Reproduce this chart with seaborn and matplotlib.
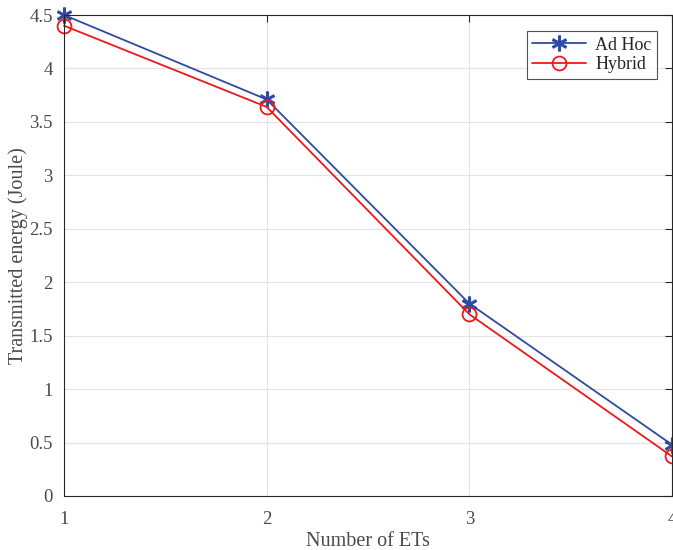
import matplotlib
matplotlib.use("Agg")
import matplotlib.pyplot as plt
import seaborn as sns
import pandas as pd

num_ets = [1, 2, 3, 4]
adhoc = [4.5, 3.71, 1.80, 0.48]
hybrid = [4.4, 3.64, 1.70, 0.37]
series_names = ["Ad Hoc", "Hybrid"]
x_ticks = [1, 2, 3, 4]
y_ticks = [0, 0.5, 1, 1.5, 2, 2.5, 3, 3.5, 4, 4.5]
y_tick_labels = ["0", "0.5", "1", "1.5", "2", "2.5", "3", "3.5", "4", "4.5"]

sns.set_style("white")
plt.rcParams["font.family"] = ["Liberation Serif", "DejaVu Serif"]

df = pd.DataFrame({
    "x": num_ets * 2,
    "y": adhoc + hybrid,
    "series": [series_names[0]] * 4 + [series_names[1]] * 4,
})

fig = plt.figure(figsize=(6.73, 5.5), dpi=100)
ax = fig.add_axes([0.0951, 0.0982, 0.9034, 0.8745])

txt = "#4a4a4a"
colors = {"Ad Hoc": "#2f4b9f", "Hybrid": "#f01818"}
for name in series_names:
    sub = df[df.series == name]
    sns.lineplot(data=sub, x="x", y="y", ax=ax, color=colors[name], lw=1.3,
                 marker="$\u2217$" if name == "Ad Hoc" else "o",
                 markersize=11 if name == "Ad Hoc" else 10,
                 markerfacecolor="none" if name == "Hybrid" else colors[name],
                 markeredgecolor=colors[name], markeredgewidth=1.3 if name == "Hybrid" else 0.8,
                 label=name, clip_on=False)

ax.set_xlim(1, 4)
ax.set_ylim(0, 4.5)
ax.set_xticks(x_ticks)
ax.set_xticklabels([str(v) for v in x_ticks])
ax.set_yticks(y_ticks)
ax.set_yticklabels(y_tick_labels)
ax.grid(True, color="#e3e3e3", lw=0.8)
ax.tick_params(direction="in", length=5, width=0.8, color="#262626", labelcolor=txt,
               labelsize=13.5, top=True, right=True, pad=8)
ax.tick_params(axis="x", pad=11)
for s in ax.spines.values():
    s.set_color("#262626")
    s.set_linewidth(0.8)
ax.set_xlabel("Number of ETs", fontsize=14.5, color=txt, labelpad=3)
ax.set_ylabel("Transmitted energy (Joule)", fontsize=14.5, color=txt, labelpad=1)

leg = ax.legend(loc="upper right", bbox_to_anchor=(0.9755, 0.966), fontsize=13,
                frameon=True, fancybox=False, edgecolor="#262626",
                handlelength=3.0, borderpad=0.3, labelspacing=0.15, handletextpad=0.5,
                borderaxespad=0)
for t in leg.get_texts():
    t.set_color("#262626")
leg.get_frame().set_linewidth(0.8)

fig.savefig("out.png", dpi=100)
